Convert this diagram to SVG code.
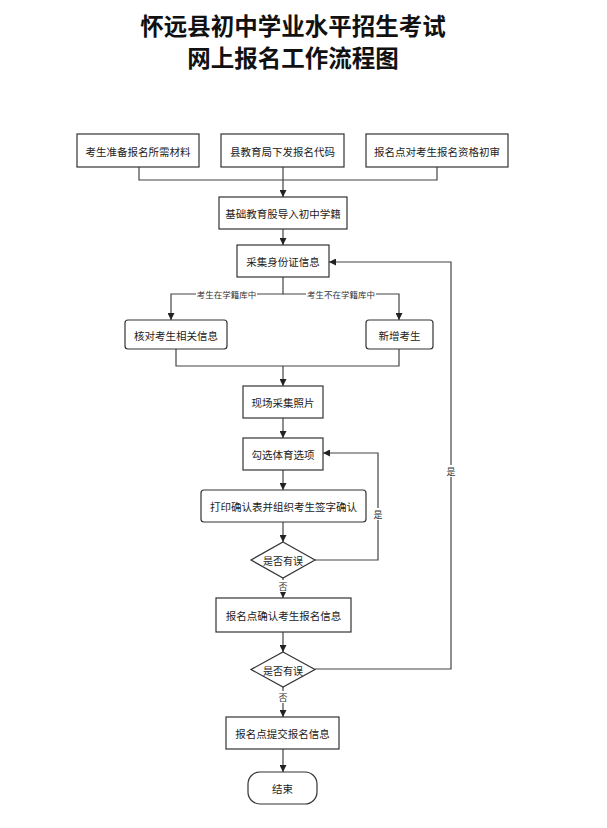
<svg xmlns="http://www.w3.org/2000/svg" width="607" height="828" viewBox="0 0 607 828">
<style>
.bg{fill:#ffffff}
.title{font-family:"Noto Sans CJK SC","Noto Sans",sans-serif;font-size:23.5px;font-weight:700;fill:#111;text-anchor:middle}
.box{fill:#ffffff;stroke:#333;stroke-width:1.2}
.t{font-family:"Noto Sans CJK SC","Noto Sans",sans-serif;font-size:10.5px;fill:#222;text-anchor:middle;dominant-baseline:central}
.td{font-family:"Noto Sans CJK SC","Noto Sans",sans-serif;font-size:10px;fill:#222;text-anchor:middle;dominant-baseline:central}
.line{fill:none;stroke:#444;stroke-width:1.2}
.lbl{font-family:"Noto Sans CJK SC","Noto Sans",sans-serif;font-size:8.5px;fill:#333;text-anchor:middle;dominant-baseline:central}
.yn{font-family:"Noto Sans CJK SC","Noto Sans",sans-serif;font-size:9px;fill:#333;text-anchor:middle;dominant-baseline:central}
.lblbg{fill:#ffffff}
</style>
<defs>
<marker id="arr" viewBox="0 0 10 10" refX="10" refY="5" markerWidth="7" markerHeight="7" markerUnits="userSpaceOnUse" orient="auto">
<path d="M0,0 L10,5 L0,10 Z" fill="#222"/>
</marker>
</defs>
<rect class="bg" x="0" y="0" width="607" height="828"/>
<g id="title">
<text class="title" x="293" y="35">怀远县初中学业水平招生考试</text>
<text class="title" x="293" y="67">网上报名工作流程图</text>
</g>
<g id="connectors">
<path class="line" d="M139,167 V180 H437 V167"/>
<path class="line" d="M283,167 V197" marker-end="url(#arr)"/>
<path class="line" d="M283,229 V245" marker-end="url(#arr)"/>
<path class="line" d="M283,277 V294 H171 V320" marker-end="url(#arr)"/>
<path class="line" d="M283,294 H399 V320" marker-end="url(#arr)"/>
<rect class="lblbg" x="196" y="289" width="61" height="10"/>
<text class="lbl" x="226.5" y="294">考生在学籍库中</text>
<rect class="lblbg" x="306" y="289" width="70" height="10"/>
<text class="lbl" x="341" y="294">考生不在学籍库中</text>
<path class="line" d="M176,349 V366 H399 V349"/>
<path class="line" d="M283,366 V386" marker-end="url(#arr)"/>
<path class="line" d="M283,418 V438" marker-end="url(#arr)"/>
<path class="line" d="M283,470 V490" marker-end="url(#arr)"/>
<path class="line" d="M283,522 V542" marker-end="url(#arr)"/>
<path class="line" d="M315,560 H378 V453 H323" marker-end="url(#arr)"/>
<rect class="lblbg" x="373" y="508" width="10" height="12"/>
<text class="yn" x="378" y="514">是</text>
<path class="line" d="M283,578 V598" marker-end="url(#arr)"/>
<rect class="lblbg" x="278" y="580" width="10" height="12"/>
<text class="yn" x="283" y="586">否</text>
<path class="line" d="M283,632 V652" marker-end="url(#arr)"/>
<path class="line" d="M315,669 H451 V262 H329" marker-end="url(#arr)"/>
<rect class="lblbg" x="446" y="465" width="10" height="12"/>
<text class="yn" x="451" y="471">是</text>
<path class="line" d="M283,687 V717" marker-end="url(#arr)"/>
<rect class="lblbg" x="278" y="691" width="10" height="12"/>
<text class="yn" x="283" y="697">否</text>
<path class="line" d="M283,749 V772" marker-end="url(#arr)"/>
</g>
<g id="n1"><rect class="box" x="77" y="134" width="122" height="33"/><text class="t" x="138" y="151">考生准备报名所需材料</text></g>
<g id="n2"><rect class="box" x="221" y="134" width="123" height="33"/><text class="t" x="282.5" y="151">县教育局下发报名代码</text></g>
<g id="n3"><rect class="box" x="366" y="134" width="142" height="33"/><text class="t" x="437" y="151">报名点对考生报名资格初审</text></g>
<g id="n4"><rect class="box" x="219" y="197" width="128" height="32"/><text class="t" x="283" y="213.5">基础教育股导入初中学籍</text></g>
<g id="n5"><rect class="box" x="237" y="245" width="92" height="32"/><text class="t" x="283" y="261.5">采集身份证信息</text></g>
<g id="n6"><rect class="box" x="125" y="320" width="102" height="29" rx="3"/><text class="t" x="176" y="335">核对考生相关信息</text></g>
<g id="n7"><rect class="box" x="366" y="320" width="67" height="29" rx="3"/><text class="t" x="399.5" y="335">新增考生</text></g>
<g id="n8"><rect class="box" x="243" y="386" width="80" height="32"/><text class="t" x="283" y="402.5">现场采集照片</text></g>
<g id="n9"><rect class="box" x="243" y="438" width="80" height="32"/><text class="t" x="283" y="454.5">勾选体育选项</text></g>
<g id="n10"><rect class="box" x="201" y="490" width="165" height="32" rx="3"/><text class="t" x="283.5" y="506.5">打印确认表并组织考生签字确认</text></g>
<g id="n11"><path class="box" d="M283,542 L315,560 L283,578 L251,560 Z"/><text class="td" x="283" y="560.5">是否有误</text></g>
<g id="n12"><rect class="box" x="216" y="598" width="135" height="34"/><text class="t" x="283.5" y="615.5">报名点确认考生报名信息</text></g>
<g id="n13"><path class="box" d="M283,652 L315,669.5 L283,687 L251,669.5 Z"/><text class="td" x="283" y="670">是否有误</text></g>
<g id="n14"><rect class="box" x="226" y="717" width="113" height="32"/><text class="t" x="282.5" y="733.5">报名点提交报名信息</text></g>
<g id="n15"><rect class="box" x="248" y="772" width="69" height="32" rx="12"/><text class="t" x="282.5" y="788.5">结束</text></g>
</svg>
